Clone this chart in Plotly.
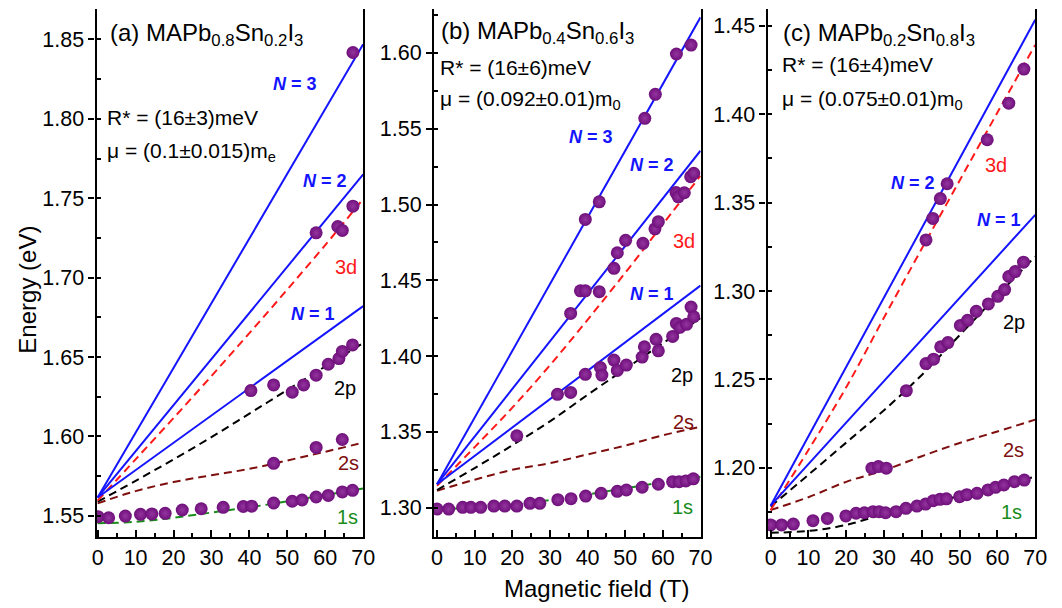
import plotly.graph_objects as go

# ---------------- data ----------------
# Panel (a) MAPb0.8Sn0.2I3
a_1s_B = [0.1, 2.9, 7.3, 11.3, 14.3, 17.8, 22.3, 27.3, 33.1, 38.4, 40.6, 46.4, 51.3, 53.9, 57.6, 60.8, 64.5, 67.2]
a_1s_E = [1.5494, 1.5487, 1.5498, 1.5509, 1.5511, 1.5515, 1.5536, 1.5544, 1.5553, 1.5558, 1.5560, 1.5580, 1.5591, 1.5599, 1.5618, 1.5628, 1.5650, 1.5660]
a_2s_B = [46.4, 57.6, 64.5]
a_2s_E = [1.5830, 1.5930, 1.5980]
a_2p_B = [40.4, 46.4, 51.3, 54.3, 57.6, 60.8, 63.6, 64.5, 67.2]
a_2p_E = [1.6288, 1.6324, 1.6278, 1.6324, 1.6385, 1.6454, 1.6490, 1.6535, 1.6576]
a_3d_B = [57.6, 63.3, 64.5, 67.3]
a_3d_E = [1.7282, 1.7322, 1.7297, 1.7450]
a_N3_B = [67.3]
a_N3_E = [1.8418]

# Panel (b) MAPb0.4Sn0.6I3
b_1s_B = [0.0, 3.1, 6.8, 9.0, 11.6, 15.1, 18.0, 21.2, 24.7, 27.3, 32.1, 35.6, 39.5, 43.6, 47.9, 50.3, 54.5, 58.8, 62.6, 64.3, 66.1, 68.1]
b_1s_E = [1.2991, 1.2991, 1.3003, 1.3003, 1.3003, 1.3011, 1.3011, 1.3011, 1.3029, 1.3029, 1.3053, 1.3060, 1.3077, 1.3095, 1.3108, 1.3117, 1.3135, 1.3155, 1.3172, 1.3172, 1.3177, 1.3191]
b_2p_B = [21.2, 32.0, 35.5, 39.4, 43.4, 43.8, 47.0, 47.9, 50.3, 54.5, 55.1, 58.2, 58.8, 62.6, 63.6, 64.5, 66.3, 67.5, 68.2]
b_2p_E = [1.3475, 1.3748, 1.3761, 1.3880, 1.3925, 1.3875, 1.3974, 1.3906, 1.3941, 1.3994, 1.4062, 1.4111, 1.4035, 1.4130, 1.4216, 1.4190, 1.4210, 1.4324, 1.4260]
b_3d_B = [35.5, 38.1, 39.4, 43.1, 47.0, 47.9, 50.1, 54.7, 57.9, 58.8, 63.5, 64.1, 65.7, 67.4, 68.2]
b_3d_E = [1.4282, 1.4431, 1.4431, 1.4425, 1.4579, 1.4682, 1.4764, 1.4744, 1.4840, 1.4887, 1.5079, 1.5051, 1.5078, 1.5184, 1.5206]
b_N3_B = [39.4, 43.1, 55.2, 58.0, 63.6, 67.5]
b_N3_E = [1.4902, 1.5018, 1.5569, 1.5727, 1.5993, 1.6052]

# Panel (c) MAPb0.2Sn0.8I3
c_1s_B = [0.0, 2.9, 6.0, 11.2, 15.0, 19.9, 22.6, 24.8, 27.1, 28.7, 30.4, 33.2, 35.8, 38.7, 41.0, 43.0, 44.8, 46.5, 50.0, 51.9, 54.6, 57.5, 59.5, 61.7, 64.5, 67.1]
c_1s_E = [1.1676, 1.1676, 1.1681, 1.1700, 1.1713, 1.1727, 1.1742, 1.1745, 1.1751, 1.1751, 1.1745, 1.1751, 1.1770, 1.1783, 1.1794, 1.1813, 1.1821, 1.1824, 1.1836, 1.1847, 1.1855, 1.1874, 1.1889, 1.1902, 1.1921, 1.1930]
c_2s_B = [26.8, 28.5, 30.6]
c_2s_E = [1.1997, 1.2006, 1.1997]
c_2p_B = [35.9, 41.1, 43.1, 45.0, 46.9, 50.2, 52.1, 54.4, 57.6, 60.1, 61.9, 63.0, 64.7, 66.9]
c_2p_E = [1.2436, 1.2589, 1.2614, 1.2684, 1.2708, 1.2805, 1.2834, 1.2885, 1.2927, 1.2970, 1.3008, 1.3082, 1.3110, 1.3163]
c_3d_B = [41.1, 42.9, 44.9, 46.7, 57.3, 63.0, 67.0]
c_3d_E = [1.3289, 1.3411, 1.3523, 1.3607, 1.3856, 1.4063, 1.4256]

# Model curves (values read at these fields)
curve_B = [0, 10, 20, 30, 40, 50, 60, 70]
a_1s_fit = [1.5452, 1.5462, 1.5487, 1.5520, 1.5553, 1.5590, 1.5630, 1.5672]
a_2s_fit = [1.5578, 1.5655, 1.5712, 1.5755, 1.5795, 1.5848, 1.5903, 1.5960]
a_2p_fit = [1.5588, 1.5720, 1.5855, 1.5995, 1.6143, 1.6292, 1.6440, 1.6588]
a_3d_fit = [1.5595, 1.5855, 1.6115, 1.6380, 1.6650, 1.6925, 1.7205, 1.7495]
b_1s_fit = [1.2992, 1.3000, 1.3018, 1.3050, 1.3088, 1.3128, 1.3168, 1.3205]
b_2s_fit = [1.3112, 1.3185, 1.3250, 1.3294, 1.3352, 1.3410, 1.3478, 1.3534]
b_2p_fit = [1.3117, 1.3262, 1.3412, 1.3570, 1.3745, 1.3915, 1.4085, 1.4250]
b_3d_fit = [1.3145, 1.3400, 1.3660, 1.3940, 1.4240, 1.4550, 1.4870, 1.5190]
c_1s_fit = [1.1632, 1.1642, 1.1676, 1.1738, 1.1790, 1.1840, 1.1893, 1.1950]
c_2s_fit = [1.1760, 1.1833, 1.1920, 1.1985, 1.2065, 1.2140, 1.2205, 1.2272]
c_2p_fit = [1.1780, 1.1960, 1.2142, 1.2325, 1.2525, 1.2750, 1.2975, 1.3195]
c_3d_fit = [1.1760, 1.2100, 1.2455, 1.2850, 1.3240, 1.3625, 1.4010, 1.4393]

# Landau levels (straight lines, start & end at 0 T and 70 T)
ll_B = [0, 70]
a_N1 = [1.5615, 1.6820]
a_N2 = [1.5615, 1.7650]
a_N3 = [1.5615, 1.8470]
b_N1 = [1.3155, 1.4465]
b_N2 = [1.3155, 1.5355]
b_N3 = [1.3155, 1.6235]
c_N1 = [1.1785, 1.3431]
c_N2 = [1.1785, 1.4535]

x_ticks = [0, 10, 20, 30, 40, 50, 60, 70]

# ---------------- styling ----------------
FONT = "Liberation Sans, Arial, sans-serif"
BLUE = "#1414ff"
RED = "#ff1a1a"
DRED = "#7f0f0f"
GREEN = "#1a8c1a"
BLACK = "#000000"
PURPLE = "#6f0f7b"
DASH = "8px,5px"

fig = go.Figure()


def add_line(xs, ys, color, ax, dashed=True):
    fig.add_trace(go.Scatter(
        x=xs, y=ys, mode="lines", xaxis=ax[0], yaxis=ax[1],
        line=dict(color=color, width=2, dash=DASH if dashed else "solid",
                  shape="spline" if dashed else "linear"),
        hoverinfo="skip", showlegend=False))


def add_pts(xs, ys, ax):
    fig.add_trace(go.Scatter(
        x=xs, y=ys, mode="markers", xaxis=ax[0], yaxis=ax[1],
        marker=dict(size=13, color=PURPLE, line=dict(width=0),
                    gradient=dict(type="radial", color="#94359f")),
        showlegend=False))


A = ("x", "y")
Bp = ("x2", "y2")
C = ("x3", "y3")

# panel a
add_line(curve_B, a_1s_fit, GREEN, A)
add_line(curve_B, a_2s_fit, DRED, A)
add_line(curve_B, a_2p_fit, BLACK, A)
add_line(curve_B, a_3d_fit, RED, A)
add_line(ll_B, a_N1, BLUE, A, dashed=False)
add_line(ll_B, a_N2, BLUE, A, dashed=False)
add_line(ll_B, a_N3, BLUE, A, dashed=False)
for bx, ey in [(a_1s_B, a_1s_E), (a_2s_B, a_2s_E), (a_2p_B, a_2p_E), (a_3d_B, a_3d_E), (a_N3_B, a_N3_E)]:
    add_pts(bx, ey, A)

# panel b
add_line(curve_B, b_1s_fit, GREEN, Bp)
add_line(curve_B, b_2s_fit, DRED, Bp)
add_line(curve_B, b_2p_fit, BLACK, Bp)
add_line(curve_B, b_3d_fit, RED, Bp)
add_line(ll_B, b_N1, BLUE, Bp, dashed=False)
add_line(ll_B, b_N2, BLUE, Bp, dashed=False)
add_line(ll_B, b_N3, BLUE, Bp, dashed=False)
for bx, ey in [(b_1s_B, b_1s_E), (b_2p_B, b_2p_E), (b_3d_B, b_3d_E), (b_N3_B, b_N3_E)]:
    add_pts(bx, ey, Bp)

# panel c
add_line(curve_B, c_1s_fit, BLACK, C)
add_line(curve_B, c_2s_fit, DRED, C)
add_line(curve_B, c_2p_fit, BLACK, C)
add_line(curve_B, c_3d_fit, RED, C)
add_line(ll_B, c_N1, BLUE, C, dashed=False)
add_line(ll_B, c_N2, BLUE, C, dashed=False)
for bx, ey in [(c_1s_B, c_1s_E), (c_2s_B, c_2s_E), (c_2p_B, c_2p_E), (c_3d_B, c_3d_E)]:
    add_pts(bx, ey, C)

W, H = 1062, 608
ydom = [1 - 537.3 / H, 1 - 9 / H]


def xaxis(dom, rng, anchor):
    return dict(domain=dom, range=rng, anchor=anchor, tickvals=x_ticks,
                ticks="inside", ticklen=7, tickwidth=1.5, tickcolor="black",
                showline=True, linecolor="black", linewidth=2.2, mirror=False,
                showgrid=False, zeroline=False,
                tickfont=dict(family=FONT, size=21.5, color="black"),
                minor=dict(dtick=5, ticks="inside", ticklen=4, tickwidth=1.5, tickcolor="black"))


def yaxis(rng, anchor):
    return dict(domain=ydom, range=rng, anchor=anchor, dtick=0.05, tick0=0,
                tickformat=".2f", ticks="outside", ticklen=6, tickwidth=1.5, tickcolor="black",
                showline=True, linecolor="black", linewidth=2.2, mirror=True,
                showgrid=False, zeroline=False,
                tickfont=dict(family=FONT, size=21.5, color="black"),
                minor=dict(dtick=0.025, ticks="inside", ticklen=4, tickwidth=1.5, tickcolor="black"))


fig.update_layout(
    width=W, height=H, margin=dict(l=0, r=0, t=0, b=0),
    paper_bgcolor="white", plot_bgcolor="white",
    xaxis=xaxis([93 / W, 364 / W], [-0.3, 70], "y"),
    xaxis2=xaxis([436 / W, 707 / W], [-0.8, 70.05], "y2"),
    xaxis3=xaxis([775 / W, 1047 / W], [-0.8, 70], "y3"),
    yaxis=yaxis([1.5364, 1.8692], "x"),
    yaxis2=yaxis([1.2805, 1.6290], "x2"),
    yaxis3=yaxis([1.1606, 1.4596], "x3"),
    font=dict(family=FONT, color="black"),
)

ann = []


def ptxt(px, py, text, size=21):
    ann.append(dict(x=px / W, y=1 - py / H, xref="paper", yref="paper", text=text,
                    showarrow=False, xanchor="left", yanchor="middle",
                    font=dict(family=FONT, size=size, color="black")))


def ltxt(ax, x, y, text, color, size=20):
    ann.append(dict(x=x, y=y, xref=ax[0], yref=ax[1], text=text, showarrow=False,
                    xanchor="center", yanchor="middle",
                    font=dict(family=FONT, size=size, color=color)))


ptxt(105, 34, "(a) MAPb<sub>0.8</sub>Sn<sub>0.2</sub>I<sub>3</sub>", 24)
ptxt(102, 117, "R* = (16±3)meV")
ptxt(102, 152, "μ = (0.1±0.015)m<sub>e</sub>")
ptxt(441, 33, "(b) MAPb<sub>0.4</sub>Sn<sub>0.6</sub>I<sub>3</sub>", 24)
ptxt(440, 67, "R* = (16±6)meV")
ptxt(440, 100, "μ = (0.092±0.01)m<sub>0</sub>")
ptxt(789, 34, "(c) MAPb<sub>0.2</sub>Sn<sub>0.8</sub>I<sub>3</sub>", 24)
ptxt(788, 64, "R* = (16±4)meV")
ptxt(788, 100, "μ = (0.075±0.01)m<sub>0</sub>")

NB = lambda n: "<b><i>N</i> = %d</b>" % n
ltxt(A, 52.1, 1.822, NB(3), BLUE, 18)
ltxt(A, 59.9, 1.761, NB(2), BLUE, 18)
ltxt(A, 56.8, 1.6773, NB(1), BLUE, 18)
ltxt(A, 65.6, 1.7064, "3d", RED)
ltxt(A, 65.1, 1.6303, "2p", BLACK)
ltxt(A, 66.1, 1.5832, "2s", DRED)
ltxt(A, 65.9, 1.5492, "1s", GREEN)

ltxt(Bp, 40.8, 1.5445, NB(3), BLUE, 18)
ltxt(Bp, 57.0, 1.5261, NB(2), BLUE, 18)
ltxt(Bp, 57.0, 1.4410, NB(1), BLUE, 18)
ltxt(Bp, 65.6, 1.4759, "3d", RED)
ltxt(Bp, 65.1, 1.3875, "2p", BLACK)
ltxt(Bp, 65.6, 1.3565, "2s", DRED)
ltxt(Bp, 65.1, 1.3005, "1s", GREEN)

ltxt(C, 37.7, 1.3612, NB(2), BLUE, 18)
ltxt(C, 60.4, 1.3401, NB(1), BLUE, 18)
ltxt(C, 59.6, 1.3713, "3d", RED)
ltxt(C, 64.3, 1.2825, "2p", BLACK)
ltxt(C, 64.3, 1.2100, "2s", DRED)
ltxt(C, 63.8, 1.1749, "1s", GREEN)

# axis titles
ann.append(dict(x=22 / W, y=1 - 290 / H, xref="paper", yref="paper", text="Energy (eV)",
                textangle=-90, showarrow=False, xanchor="center", yanchor="middle",
                font=dict(family=FONT, size=24, color="black")))
ann.append(dict(x=601 / W, y=1 - 588 / H, xref="paper", yref="paper", text="Magnetic field (T)",
                showarrow=False, xanchor="center", yanchor="middle",
                font=dict(family=FONT, size=24, color="black")))

fig.update_layout(annotations=ann)
fig.write_html("out.html")
